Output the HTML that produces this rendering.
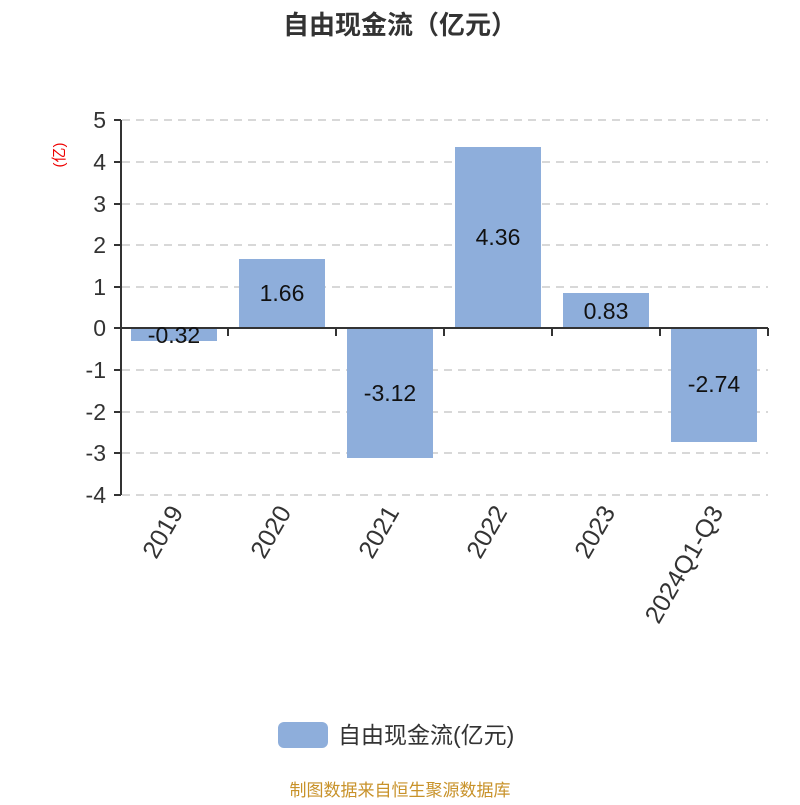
<!DOCTYPE html>
<html><head><meta charset="utf-8"><style>body{margin:0;background:#fff}</style></head>
<body>
<svg width="800" height="800" xmlns="http://www.w3.org/2000/svg" font-family="'Liberation Sans','Noto Sans CJK SC',sans-serif">
<rect width="800" height="800" fill="#fff"/>
<text x="400" y="34" text-anchor="middle" font-size="26" font-weight="bold" fill="#333">自由现金流（亿元）</text>
<text transform="translate(64,155) rotate(-90)" text-anchor="middle" font-size="15" fill="#e00">(亿)</text>
<g stroke="#ccc" stroke-dasharray="8,6" stroke-width="1.5">
<line x1="122" y1="120" x2="768" y2="120"/><line x1="122" y1="162" x2="768" y2="162"/>
<line x1="122" y1="204" x2="768" y2="204"/><line x1="122" y1="245" x2="768" y2="245"/>
<line x1="122" y1="287" x2="768" y2="287"/><line x1="122" y1="370" x2="768" y2="370"/>
<line x1="122" y1="412" x2="768" y2="412"/><line x1="122" y1="453" x2="768" y2="453"/>
<line x1="122" y1="495" x2="768" y2="495"/>
</g>
<g fill="#8eaedb">
<rect x="131" y="328" width="86" height="13"/>
<rect x="239" y="259" width="86" height="69"/>
<rect x="347" y="328" width="86" height="130"/>
<rect x="455" y="147" width="86" height="181"/>
<rect x="563" y="293" width="86" height="35"/>
<rect x="671" y="328" width="86" height="114"/>
</g>
<g stroke="#333" stroke-width="2">
<line x1="121" y1="120" x2="121" y2="495"/>
<line x1="120" y1="328" x2="768" y2="328"/>
<line x1="114" y1="120" x2="121" y2="120"/><line x1="114" y1="162" x2="121" y2="162"/>
<line x1="114" y1="204" x2="121" y2="204"/><line x1="114" y1="245" x2="121" y2="245"/>
<line x1="114" y1="287" x2="121" y2="287"/><line x1="114" y1="328" x2="121" y2="328"/>
<line x1="114" y1="370" x2="121" y2="370"/><line x1="114" y1="412" x2="121" y2="412"/>
<line x1="114" y1="453" x2="121" y2="453"/><line x1="114" y1="495" x2="121" y2="495"/>
<line x1="228" y1="328" x2="228" y2="336"/><line x1="336" y1="328" x2="336" y2="336"/>
<line x1="444" y1="328" x2="444" y2="336"/><line x1="552" y1="328" x2="552" y2="336"/>
<line x1="660" y1="328" x2="660" y2="336"/><line x1="768" y1="328" x2="768" y2="336"/>
</g>
<g font-size="23" fill="#333" text-anchor="end">
<text x="106" y="128">5</text><text x="106" y="170">4</text><text x="106" y="212">3</text>
<text x="106" y="253">2</text><text x="106" y="295">1</text><text x="106" y="336">0</text>
<text x="106" y="378">-1</text><text x="106" y="420">-2</text><text x="106" y="461">-3</text>
<text x="106" y="503">-4</text>
</g>
<g font-size="23" fill="#111" text-anchor="middle">
<text x="174" y="343">-0.32</text><text x="282" y="301">1.66</text>
<text x="390" y="401">-3.12</text><text x="498" y="245">4.36</text>
<text x="606" y="319">0.83</text><text x="714" y="392">-2.74</text>
</g>
<g font-size="25" fill="#333" text-anchor="end">
<text transform="translate(184,512) rotate(-60)">2019</text>
<text transform="translate(292,512) rotate(-60)">2020</text>
<text transform="translate(400,512) rotate(-60)">2021</text>
<text transform="translate(508,512) rotate(-60)">2022</text>
<text transform="translate(616,512) rotate(-60)">2023</text>
<text transform="translate(724,512) rotate(-60)">2024Q1-Q3</text>
</g>
<rect x="278" y="722" width="50" height="26" rx="6" fill="#8eaedb"/>
<text x="338" y="743" font-size="23" fill="#333">自由现金流(亿元)</text>
<text x="400" y="796" text-anchor="middle" font-size="17" fill="#c8922a">制图数据来自恒生聚源数据库</text>
</svg>
</body></html>
